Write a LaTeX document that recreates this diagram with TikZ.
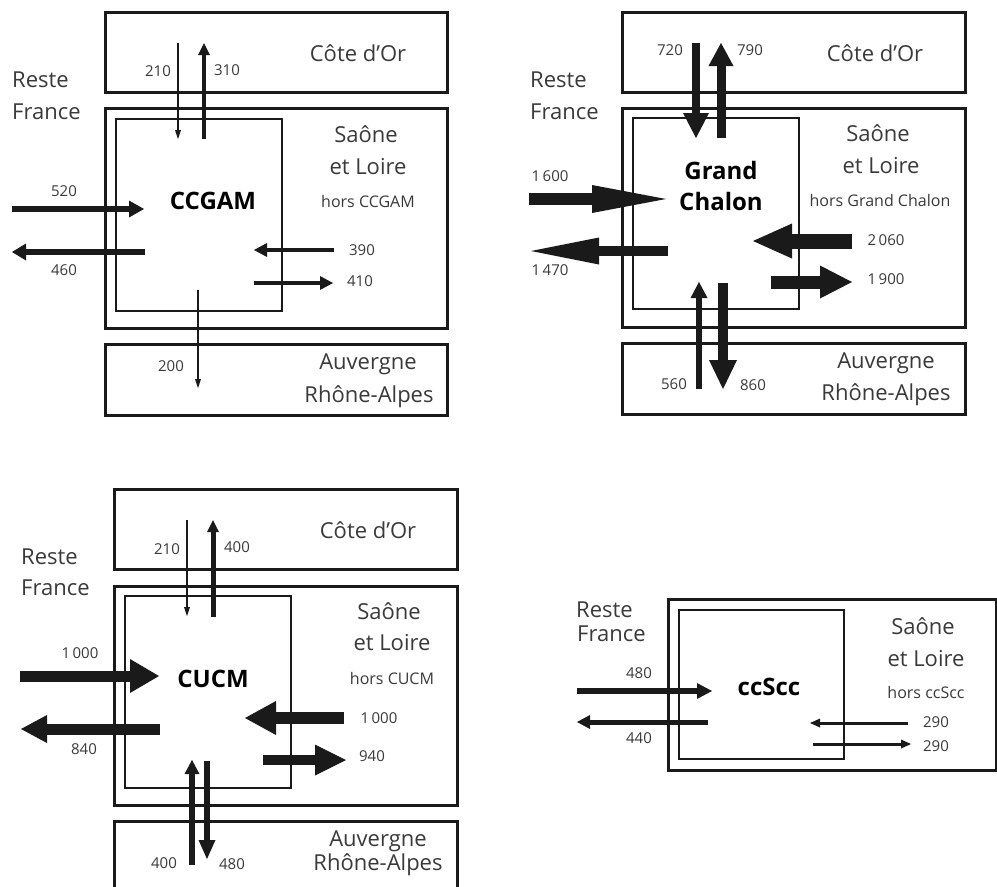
\documentclass[tikz,border=0pt]{standalone}
\usepackage{fontspec}
\setmainfont{Open Sans}
\usetikzlibrary{arrows.meta}
\definecolor{ink}{HTML}{1A1A1A}
\definecolor{txt}{HTML}{3A3A3A}
\newcommand{\flw}[6]{%
  \coordinate (#1s) at (#2); \coordinate (#1e) at (#3);
  \draw[ink, line width=#4pt, -{Triangle[width=#5pt,length=#6pt,line width=0pt]}] (#1s) -- (#1e);}
\tikzset{
  boxo/.style={draw=ink, line width=2.6pt},
  boxi/.style={draw=ink, line width=2pt},
  big/.style={font=\fontsize{22}{26}\selectfont, text=txt, inner sep=0pt, text height=15.7pt, text depth=0pt},
  sub/.style={font=\fontsize{16}{18}\selectfont, text=txt, inner sep=0pt, text height=11.4pt, text depth=0pt},
  num/.style={font=\fontsize{15}{17}\selectfont, text=txt, inner sep=0pt, text height=10.7pt, text depth=0pt},
  ttl/.style={font=\fontsize{24}{27}\selectfont\bfseries, text=black, inner sep=0pt, text height=17.1pt, text depth=0pt},
}
\begin{document}
\begin{tikzpicture}[x=1pt,y=-1pt]
\useasboundingbox (0,0) rectangle (997,887);
\clip (0,0) rectangle (997,887);
\fill[white] (0,0) rectangle (997,887);

% ---------------- Panel 1 : CCGAM
\node[boxo, minimum width=342pt, minimum height=80pt, inner sep=0pt, anchor=north west] (co1) at (104,11) {};
\node[boxo, minimum width=342pt, minimum height=220pt, inner sep=0pt, anchor=north west] (sl1) at (104,107) {};
\node[boxi, minimum width=166pt, minimum height=192pt, inner sep=0pt, anchor=north west] (in1) at (115,118) {};
\node[boxo, minimum width=342pt, minimum height=71pt, inner sep=0pt, anchor=north west] (au1) at (104,343) {};
\node[big] (co1t) at (358,54) {Côte d’Or};
\node[big, anchor=west] (rf1a) at (12,80) {Reste};
\node[big, anchor=west] (rf1b) at (12,112) {France};
\node[big] (sl1a) at (366,135) {Saône};
\node[big] (sl1b) at (368,167) {et Loire};
\node[sub] (sl1c) at (368,202) {hors CCGAM};
\node[big] (au1a) at (368,362) {Auvergne};
\node[big] (au1b) at (369,395) {Rhône-Alpes};
\node[ttl] (t1) at (213,201) {CCGAM};
\flw{a1}{178,43}{178,139}{1.5}{6}{9}
\flw{b1}{204,139}{204,43}{4.5}{12}{12}
\flw{c1}{12,209}{144,209}{5.5}{17}{15}
\flw{d1}{145,252}{12,252}{5.5}{17}{14}
\flw{e1}{334,250}{254,250}{4.5}{14}{13}
\flw{f1}{254,283}{333,283}{4.5}{14}{13}
\flw{g1}{198,290}{198,388}{1.5}{6}{9}
\node[num] (n1a) at (158,71) {210};
\node[num] (n1b) at (227,70) {310};
\node[num] (n1c) at (64,191) {520};
\node[num] (n1d) at (64,270) {460};
\node[num] (n1e) at (362,250) {390};
\node[num] (n1f) at (360,281) {410};
\node[num] (n1g) at (171,366) {200};

% ---------------- Panel 2 : Grand Chalon
\node[boxo, minimum width=343pt, minimum height=80pt, inner sep=0pt, anchor=north west] (co2) at (621,11) {};
\node[boxo, minimum width=343pt, minimum height=219pt, inner sep=0pt, anchor=north west] (sl2) at (621,107) {};
\node[boxi, minimum width=166pt, minimum height=191pt, inner sep=0pt, anchor=north west] (in2) at (632,117) {};
\node[boxo, minimum width=343pt, minimum height=71pt, inner sep=0pt, anchor=north west] (au2) at (621,342) {};
\node[big] (co2t) at (875,54) {Côte d’Or};
\node[big, anchor=west] (rf2a) at (530,80) {Reste};
\node[big, anchor=west] (rf2b) at (530,112) {France};
\node[big] (sl2a) at (878,134) {Saône};
\node[big] (sl2b) at (881,166) {et Loire};
\node[sub] (sl2c) at (880,201) {hors Grand Chalon};
\node[big] (au2a) at (886,361) {Auvergne};
\node[big] (au2b) at (886,393) {Rhône-Alpes};
\node[ttl] (t2a) at (721,171) {Grand};
\node[ttl] (t2b) at (721,202) {Chalon};
\flw{a2}{696,43}{696,138}{8}{26}{25}
\flw{b2}{721,138}{721,43}{9}{25}{23}
\flw{c2}{529,199}{666,199}{12}{28}{74}
\flw{d2}{668,251}{531,251}{10.5}{27}{68}
\flw{e2}{852,241}{753,241}{15}{35}{39}
\flw{f2}{771,282}{852,282}{13}{33}{32}
\flw{g2}{699,389}{699,282}{5.5}{17}{16}
\flw{h2}{723,283}{723,389}{10.5}{28}{29}
\node[num] (n2a) at (670,50) {720};
\node[num] (n2b) at (750,50) {790};
\node[num] (n2c) at (550,176) {1\,600};
\node[num] (n2d) at (550,270) {1\,470};
\node[num] (n2e) at (886,240) {2\,060};
\node[num] (n2f) at (886,279) {1\,900};
\node[num] (n2g) at (674,384) {560};
\node[num] (n2h) at (753,385) {860};

% ---------------- Panel 3 : CUCM
\node[boxo, minimum width=343pt, minimum height=80pt, inner sep=0pt, anchor=north west] (co3) at (113,488) {};
\node[boxo, minimum width=343pt, minimum height=219pt, inner sep=0pt, anchor=north west] (sl3) at (113,585) {};
\node[boxi, minimum width=166pt, minimum height=192pt, inner sep=0pt, anchor=north west] (in3) at (124,595) {};
\node[boxo, minimum width=343pt, minimum height=90pt, inner sep=0pt, anchor=north west] (au3) at (113,820) {};
\node[big] (co3t) at (368,531) {Côte d’Or};
\node[big, anchor=west] (rf3a) at (21,557) {Reste};
\node[big, anchor=west] (rf3b) at (21,588) {France};
\node[big] (sl3a) at (389,612) {Saône};
\node[big] (sl3b) at (392,643) {et Loire};
\node[sub] (sl3c) at (392,679) {hors CUCM};
\node[big] (au3a) at (378,839) {Auvergne};
\node[big] (au3b) at (378,863) {Rhône-Alpes};
\node[ttl] (t3) at (213,679) {CUCM};
\flw{a3}{187,520}{187,616}{1.5}{6}{9}
\flw{b3}{213,617}{213,520}{5}{12}{12}
\flw{c3}{20,676}{159,676}{11}{34}{29}
\flw{d3}{160,729}{21,729}{11}{28}{26}
\flw{e3}{344,718}{245,718}{12}{34}{31}
\flw{f3}{263,760}{346,760}{10}{31}{31}
\flw{g3}{192,865}{192,760}{6}{15}{14}
\flw{h3}{207,761}{207,859}{6}{17}{19}
\node[num] (n3a) at (167,549) {210};
\node[num] (n3b) at (237,547) {400};
\node[num] (n3c) at (80,653) {1\,000};
\node[num] (n3d) at (84,749) {840};
\node[num] (n3e) at (379,718) {1\,000};
\node[num] (n3f) at (372,756) {940};
\node[num] (n3g) at (164,863) {400};
\node[num] (n3h) at (232,864) {480};

% ---------------- Panel 4 : ccScc
\node[boxo, minimum width=328pt, minimum height=171pt, inner sep=0pt, anchor=north west] (sl4) at (667,598) {};
\node[boxi, minimum width=165pt, minimum height=149pt, inner sep=0pt, anchor=north west] (in4) at (678,609) {};
\node[big, anchor=west] (rf4a) at (576,610) {Reste};
\node[big, anchor=west] (rf4b) at (577,634) {France};
\node[big] (sl4a) at (923,627) {Saône};
\node[big] (sl4b) at (926,659) {et Loire};
\node[sub] (sl4c) at (926,693) {hors ccScc};
\node[ttl] (t4) at (769,687) {ccScc};
\flw{c4}{577,691}{712,691}{5.5}{16}{15}
\flw{d4}{708,722}{577,722}{5}{14}{13}
\flw{e4}{908,723}{810,723}{3}{9}{10}
\flw{f4}{813,744}{911,744}{3}{9}{10}
\node[num] (n4c) at (639,673) {480};
\node[num] (n4d) at (639,738) {440};
\node[num] (n4e) at (936,722) {290};
\node[num] (n4f) at (936,746) {290};
\end{tikzpicture}
\end{document}
